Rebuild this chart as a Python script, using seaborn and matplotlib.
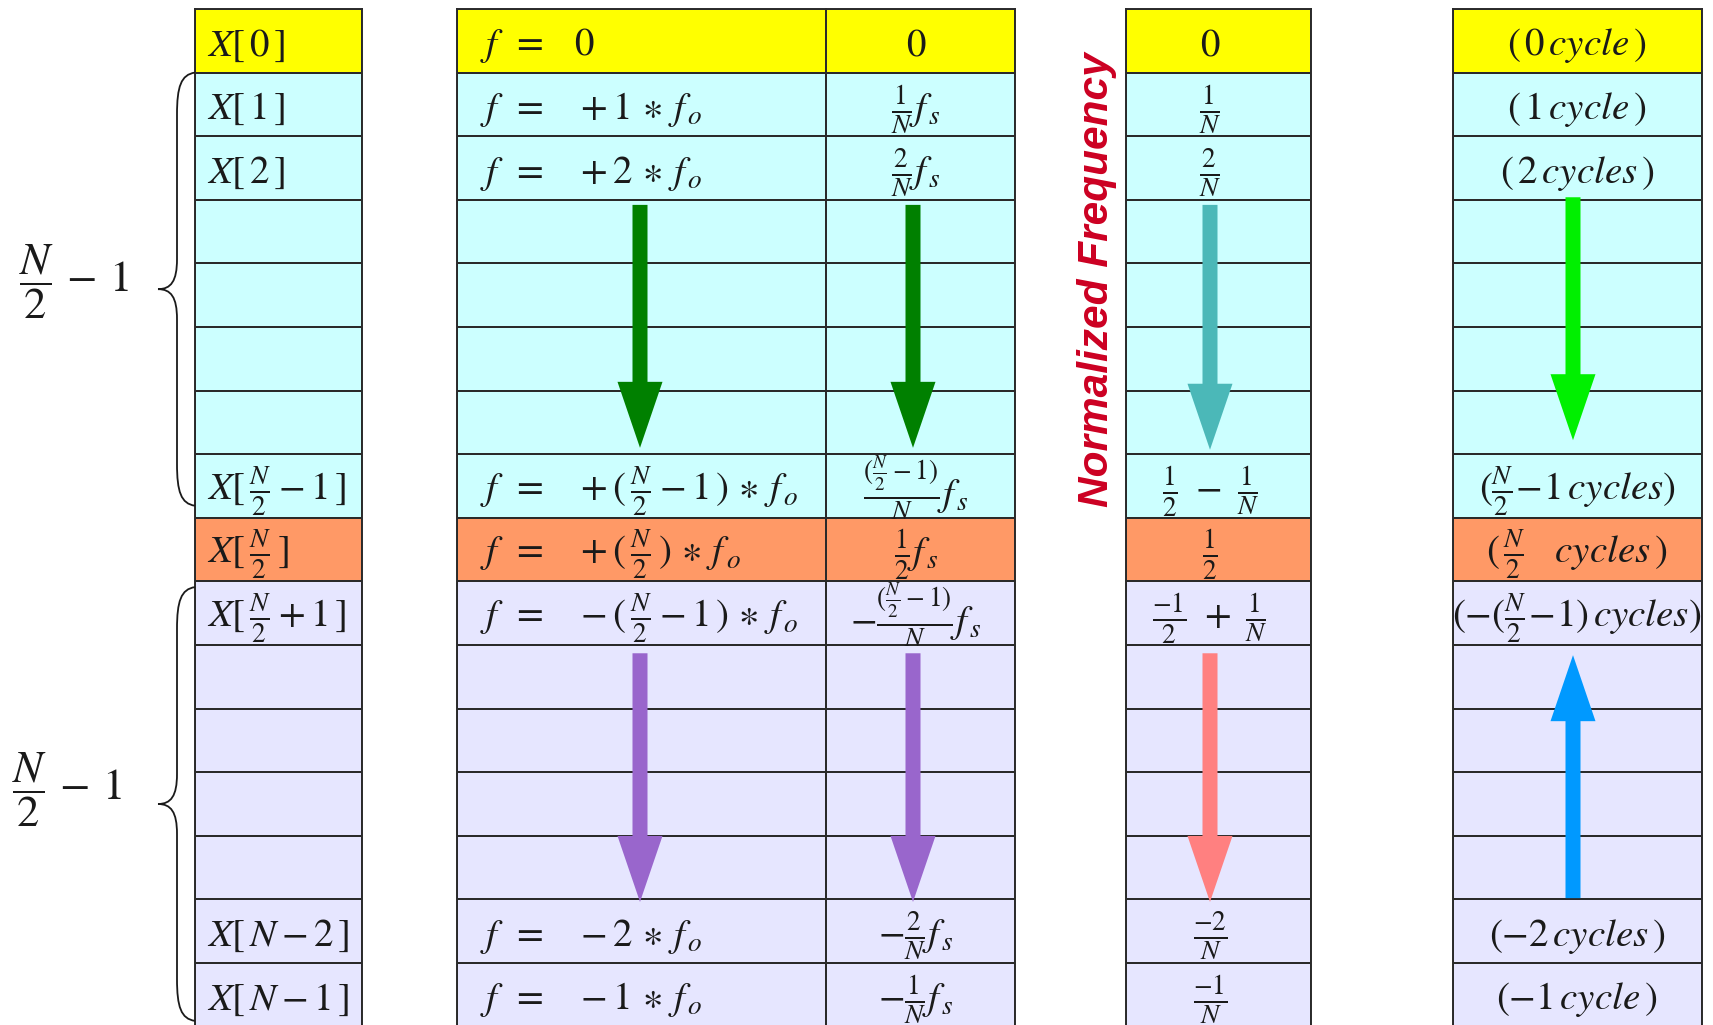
import numpy as np
import matplotlib.pyplot as plt
import seaborn as sns
from matplotlib.colors import ListedColormap
from matplotlib.path import Path
from matplotlib.patches import PathPatch, FancyArrow

sns.set_theme(style='white')
plt.rcParams['mathtext.fontset'] = 'stix'
plt.rcParams['font.family'] = ['DejaVu Sans']

# %% Data
# row kind: 0 = DC, 1 = positive freqs, 2 = Nyquist, 3 = negative freqs
row_kind = [0] + [1] * 7 + [2] + [3] * 7
kind_colors = ['#FFFF00', '#CCFFFF', '#FF9966', '#E6E6FF']

bin_labels = [r'$X[\,0\,]$', r'$X[\,1\,]$', r'$X[\,2\,]$', '', '', '', '',
              r'$X[\,\frac{N}{2}-1\,]$', r'$X[\,\frac{N}{2}\,]$', r'$X[\,\frac{N}{2}+1\,]$',
              '', '', '', '', r'$X[\,N-2\,]$', r'$X[\,N-1\,]$']

freq_labels = [r'$f\ \,=\ \;\ 0$', r'$f\ \,=\ \;\ +1\,\ast\,f_{\,o}$',
               r'$f\ \,=\ \;\ +2\,\ast\,f_{\,o}$', '', '', '', '',
               r'$f\ \,=\ \;\ +(\,\frac{N}{2}-1\,)\,\ast\,f_{\,o}$',
               r'$f\ \,=\ \;\ +(\,\frac{N}{2}\,)\,\ast\,f_{\,o}$',
               r'$f\ \,=\ \;\ -(\,\frac{N}{2}-1\,)\,\ast\,f_{\,o}$', '', '', '', '',
               r'$f\ \,=\ \;\ -2\,\ast\,f_{\,o}$', r'$f\ \,=\ \;\ -1\,\ast\,f_{\,o}$']

fs_labels = [r'$0$', r'$\frac{1}{N}f_{\,s}$', r'$\frac{2}{N}f_{\,s}$', '', '', '', '',
             r'$\frac{(\frac{N}{2}-1)}{N}f_{\,s}$', r'$\frac{1}{2}f_{\,s}$',
             r'$-\frac{(\frac{N}{2}-1)}{N}f_{\,s}$', '', '', '', '',
             r'$-\frac{2}{N}f_{\,s}$', r'$-\frac{1}{N}f_{\,s}$']

norm_labels = [r'$0$', r'$\frac{1}{N}$', r'$\frac{2}{N}$', '', '', '', '',
               r'$\frac{1}{2}\ -\ \frac{1}{N}$', r'$\frac{1}{2}$',
               r'$\frac{-1}{2}\ +\ \frac{1}{N}$', '', '', '', '',
               r'$\frac{-2}{N}$', r'$\frac{-1}{N}$']

cycle_labels = [r'$(\,0\,cycle\,)$', r'$(\,1\,cycle\,)$', r'$(\,2\,cycles\,)$', '', '', '', '',
                r'$(\frac{N}{2}\!-\!1\,cycles)$', r'$(\,\frac{N}{2}\quad cycles\,)$',
                r'$(-(\frac{N}{2}\!-\!1)\,cycles)$', '', '', '', '',
                r'$(-2\,cycles\,)$', r'$(-1\,cycle\,)$']

# arrows: (column, start row, end row, colour)
arrows = [
    (1, 3.08, 6.90, '#008000'),
    (2, 3.08, 6.90, '#008000'),
    (3, 3.08, 6.93, '#4BB8B8'),
    (4, 2.96, 6.78, '#00F000'),
    (1, 10.13, 14.04, '#9966CC'),
    (2, 10.13, 14.04, '#9966CC'),
    (3, 10.13, 14.04, '#FF8080'),
    (4, 13.98, 10.16, '#0099FF'),
]

# braces: (first row, last row)
braces = [(1.0, 7.81), (9.09, 15.91)]

# %% Layout
W, H = 1713, 1025
TOP, ROW_H = 9, 63.6
n_rows = len(row_kind)
col_edges = [(195, 362), (457, 826), (826, 1015), (1126, 1311), (1453, 1702)]
text_x = [207, 480, 916, 1210, 1577]
text_ha = ['left', 'left', 'center', 'center', 'center']
arrow_x = [None, 640, 913, 1210, 1573]


def ry(r):
    return TOP + r * ROW_H


fig = plt.figure(figsize=(W / 100, H / 100), dpi=100)

cmap = ListedColormap(kind_colors)
grid = np.array(row_kind).reshape(-1, 1)
for x0, x1 in col_edges:
    ax = fig.add_axes([x0 / W, 1 - ry(n_rows) / H, (x1 - x0) / W, n_rows * ROW_H / H])
    sns.heatmap(grid, cmap=cmap, vmin=-0.5, vmax=3.5, cbar=False,
                linewidths=1.4, linecolor='#2a2a2a',
                xticklabels=False, yticklabels=False, ax=ax)
    for sp in ax.spines.values():
        sp.set_visible(True)
        sp.set_linewidth(1.4)
        sp.set_color('#2a2a2a')

ov = fig.add_axes([0, 0, 1, 1])
ov.set_xlim(0, W)
ov.set_ylim(H, 0)
ov.axis('off')
ov.patch.set_alpha(0)

BASE = 0.73
for ci, labels in enumerate([bin_labels, freq_labels, fs_labels, norm_labels, cycle_labels]):
    for r, lab in enumerate(labels):
        if lab:
            # nested fractions sit a bit lower in their cell
            base = 0.80 if lab.count(r'\frac') > 1 and ci == 2 else BASE
            ov.text(text_x[ci], ry(r + base), lab, fontsize=28, ha=text_ha[ci],
                    va='baseline', color='#1a1a1a')

for ci, r0, r1, c in arrows:
    y0, y1 = ry(r0), ry(r1)
    ov.add_patch(FancyArrow(arrow_x[ci], y0, 0, y1 - y0, width=15, head_width=45,
                            head_length=66, length_includes_head=True,
                            color=c, lw=0))

# curly braces on the left
xe, xb, xt = 195, 177, 158
for r0, r1 in braces:
    y0, y1 = ry(r0), ry(r1)
    ym = (y0 + y1) / 2
    verts = [(xe, y0), (xb + 4, y0 + 2), (xb, y0 + 14), (xb, y0 + 42),
             (xb, ym - 30),
             (xb, ym - 8), (xb - 6, ym), (xt, ym),
             (xb - 6, ym), (xb, ym + 8), (xb, ym + 30),
             (xb, y1 - 42),
             (xb, y1 - 14), (xb + 4, y1 - 2), (xe, y1)]
    codes = [Path.MOVETO, Path.CURVE4, Path.CURVE4, Path.CURVE4,
             Path.LINETO,
             Path.CURVE4, Path.CURVE4, Path.CURVE4,
             Path.CURVE4, Path.CURVE4, Path.CURVE4,
             Path.LINETO,
             Path.CURVE4, Path.CURVE4, Path.CURVE4]
    ov.add_patch(PathPatch(Path(verts, codes), fill=False, lw=1.3, color='#1a1a1a'))

ov.text(19, ry(4.29), r'$\dfrac{N}{2}\,-\,1$', fontsize=32, ha='left', va='center', color='#1a1a1a')
ov.text(12, ry(12.28), r'$\dfrac{N}{2}\,-\,1$', fontsize=32, ha='left', va='center', color='#1a1a1a')

ov.text(1097, ry(4.26), 'Normalized Frequency', rotation=90, ha='center', va='center',
        fontsize=30.5, fontweight='bold', fontstyle='italic',
        family=['Liberation Sans', 'DejaVu Sans'], color='#CC0022')

fig.savefig('out.png', dpi=100)
